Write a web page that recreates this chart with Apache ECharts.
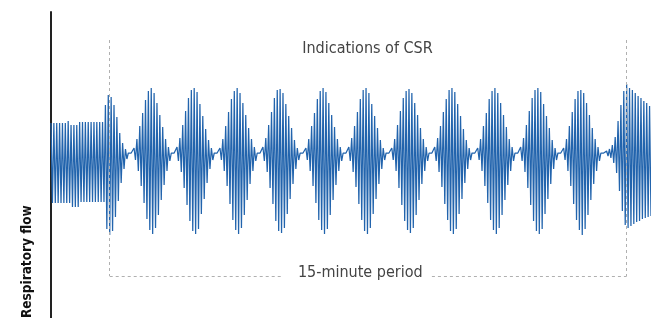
<!DOCTYPE html>
<html>
<head>
<meta charset="utf-8">
<script src="https://cdn.jsdelivr.net/npm/echarts@6/dist/echarts.min.js"></script>
<style>
  html, body { margin: 0; padding: 0; background: #fff; }
  #main { width: 651px; height: 318px; }
</style>
</head>
<body>
<div id="main"></div>
<script>
// regular breathing before CSR (peak up / trough down, per breath)
const regularPeaks = [30, 30, 30, 30, 30, 30, 32, 28, 28, 28, 31, 31, 31, 31, 31, 31, 31, 31, 31]
const regularTroughs = [50, 50, 50, 50, 50, 50, 50, 54, 54, 54, 49, 49, 49, 49, 49, 49, 49, 49, 49]

// first burst only decays (transition into CSR)
const firstPeaks = [48, 58, 56, 48, 36, 20, 10, 4]
const firstTroughs = [76, 82, 78, 64, 48, 30, 16, 6]

// crescendo-decrescendo bursts
const burstPeaks = [
  [5, 14, 27, 40, 53, 62, 65, 60, 50, 38, 26, 14, 6],
  [6, 15, 28, 42, 55, 63, 65, 61, 49, 37, 24, 13, 5],
  [5, 14, 27, 41, 54, 62, 65, 60, 50, 38, 25, 14, 6],
  [6, 15, 28, 41, 55, 63, 64, 60, 49, 37, 25, 13, 5],
  [5, 14, 27, 40, 54, 62, 65, 61, 50, 38, 26, 14, 6],
  [6, 15, 27, 41, 54, 63, 65, 60, 49, 37, 25, 13, 5],
  [5, 14, 28, 42, 55, 62, 64, 60, 50, 38, 25, 14, 6],
  [6, 15, 27, 41, 54, 63, 65, 61, 49, 37, 24, 13, 5],
  [5, 14, 27, 40, 54, 62, 65, 60, 50, 38, 26, 14, 6],
  [6, 15, 28, 42, 55, 63, 65, 61, 49, 37, 25, 13, 5],
  [5, 14, 27, 41, 54, 62, 63, 60, 50, 38, 25, 14, 6]
]
const burstTroughs = [
  [7, 18, 33, 50, 66, 77, 81, 75, 62, 47, 32, 18, 8],
  [8, 19, 35, 52, 68, 78, 81, 76, 61, 46, 30, 16, 7],
  [7, 18, 33, 51, 67, 77, 81, 75, 62, 47, 31, 18, 8],
  [8, 19, 35, 51, 68, 78, 80, 75, 61, 46, 31, 16, 7],
  [7, 18, 33, 50, 67, 77, 81, 76, 62, 47, 32, 18, 8],
  [8, 19, 34, 51, 67, 78, 81, 75, 61, 46, 31, 16, 7],
  [7, 18, 35, 52, 68, 77, 80, 75, 62, 47, 31, 18, 8],
  [8, 19, 34, 51, 67, 78, 81, 76, 61, 46, 30, 16, 7],
  [7, 18, 33, 50, 67, 77, 81, 75, 62, 47, 32, 18, 8],
  [8, 19, 35, 52, 68, 78, 81, 76, 61, 46, 31, 16, 7],
  [7, 18, 33, 51, 67, 77, 82, 76, 62, 47, 31, 18, 8]
]

// last burst rises and stays high to the edge
const lastPeaks = [2, 4, 8, 16, 32, 48, 62, 69, 65, 63, 60, 57, 55, 52, 50, 47]
const lastTroughs = [3, 5, 10, 20, 38, 58, 72, 75, 73, 71, 69, 68, 66, 65, 64, 63]

const apneaSamples = 4

// annotation positions (sample index / flow units)
const periodStart = 41
const periodEnd = 402
const bracketTop = 113
const bracketBottom = -123
const gapLeft = 162
const gapRight = 266

const samples = []
function pushBreaths(peaks, troughs) {
  for (let i = 0; i < peaks.length; i++) {
    samples.push(peaks[i])
    samples.push(-troughs[i])
  }
}
function pushApnea() {
  for (let i = 0; i < apneaSamples; i++) samples.push(0)
}

pushBreaths(regularPeaks, regularTroughs)
pushBreaths(firstPeaks, firstTroughs)
for (let b = 0; b < burstPeaks.length; b++) {
  pushApnea()
  pushBreaths(burstPeaks[b], burstTroughs[b])
}
pushApnea()
pushBreaths(lastPeaks, lastTroughs)

const seriesData = samples.map((v, i) => [i, v])

const narrow = "'Liberation Sans Narrow', 'DejaVu Sans Condensed', 'Roboto Condensed', Roboto, sans-serif"
const dashStyle = { color: '#b0b0b0', type: [3, 3], width: 1 }

const chart = echarts.init(document.getElementById('main'))
const option = {
  animation: false,
  grid: { left: 51, right: 0, top: 12, bottom: 0, outerBoundsMode: 'none' },
  xAxis: {
    type: 'value',
    min: 0,
    max: samples.length - 1,
    show: false
  },
  yAxis: {
    type: 'value',
    min: -165,
    max: 141,
    axisLine: { show: true, lineStyle: { color: '#222', width: 2 } },
    axisTick: { show: false },
    axisLabel: { show: false },
    splitLine: { show: false },
    name: 'Respiratory flow',
    nameLocation: 'start',
    nameGap: 0,
    nameRotate: 90,
    nameTextStyle: {
      fontFamily: narrow,
      fontWeight: 'bold',
      fontSize: 13.5,
      color: '#111',
      align: 'left',
      verticalAlign: 'bottom',
      padding: [0, 0, 17, 0]
    }
  },
  series: [
    {
      type: 'line',
      data: seriesData,
      showSymbol: false,
      symbol: 'none',
      lineStyle: { color: '#2264ad', width: 1.25 },
      markLine: {
        silent: true,
        symbol: 'none',
        label: { show: false },
        lineStyle: dashStyle,
        data: [
          [{ coord: [periodStart, bracketTop] }, { coord: [periodStart, bracketBottom] }],
          [{ coord: [periodEnd, bracketTop] }, { coord: [periodEnd, bracketBottom] }],
          [{ coord: [periodStart, bracketBottom] }, { coord: [gapLeft, bracketBottom] }],
          [{ coord: [gapRight, bracketBottom] }, { coord: [periodEnd, bracketBottom] }]
        ]
      },
      markPoint: {
        silent: true,
        symbol: 'circle',
        symbolSize: 1,
        itemStyle: { color: 'rgba(0,0,0,0)' },
        label: {
          show: true,
          position: 'inside',
          formatter: '{b}',
          fontFamily: narrow,
          fontSize: 16,
          color: '#444'
        },
        data: [
          { name: 'Indications of CSR', coord: [221, 104] },
          { name: '15-minute period', coord: [216, -120] }
        ]
      }
    }
  ]
}
chart.setOption(option)
</script>
</body>
</html>
